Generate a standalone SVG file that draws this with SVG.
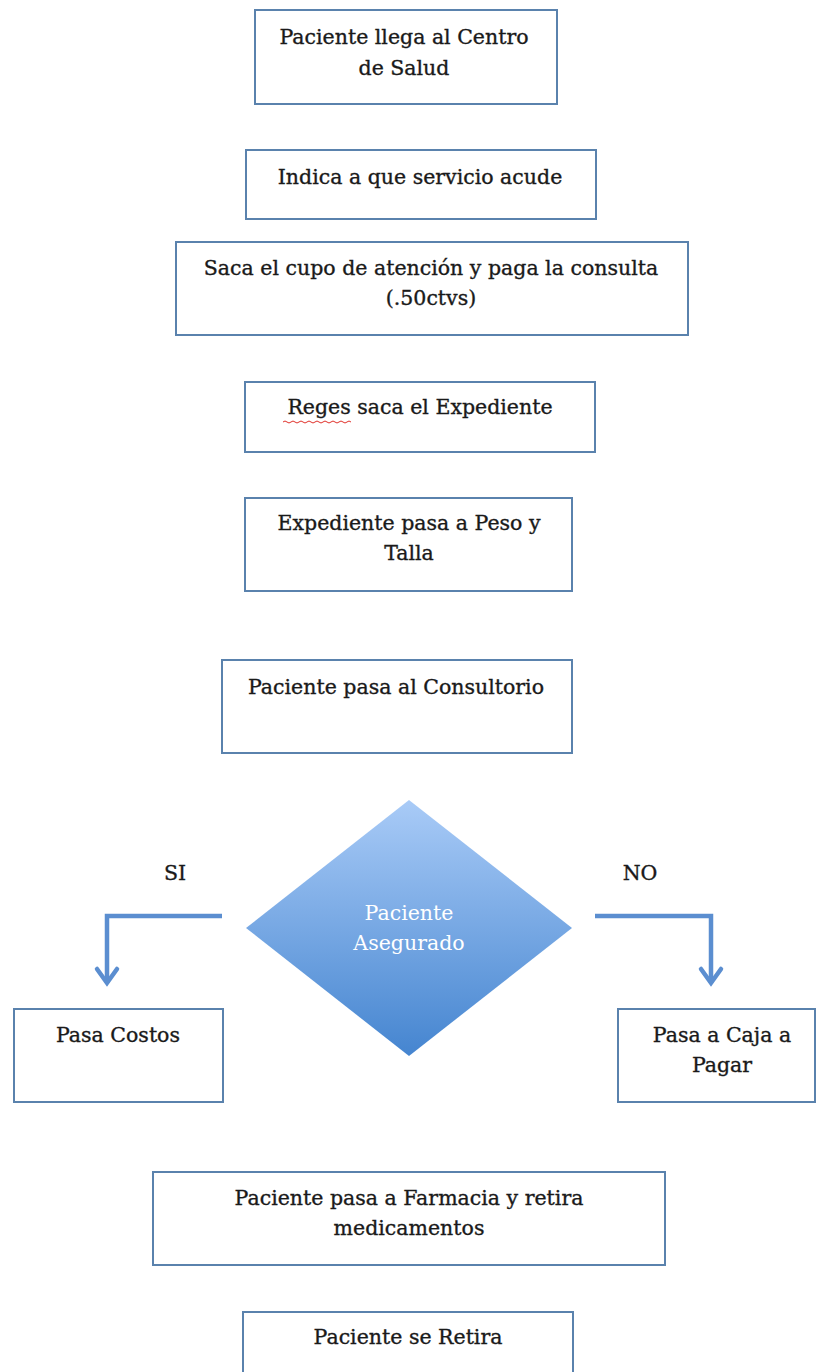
<svg xmlns="http://www.w3.org/2000/svg" width="816" height="1372" viewBox="0 0 816 1372">
<defs>
<style>
.box{fill:#ffffff;stroke:#5a82ad;stroke-width:2;}
.t{font-family:"DejaVu Serif","Liberation Serif",serif;font-size:20.5px;fill:#1a1a1a;stroke:#1a1a1a;stroke-width:0.35;text-anchor:middle;}
.lbl{font-family:"DejaVu Serif","Liberation Serif",serif;font-size:20.5px;fill:#1a1a1a;stroke:#1a1a1a;stroke-width:0.35;text-anchor:middle;}
.wt{font-family:"DejaVu Serif","Liberation Serif",serif;font-size:20.5px;fill:#ffffff;text-anchor:middle;}
.conn{fill:none;stroke:#5b8ed0;stroke-width:4.5;stroke-linejoin:miter;}
.head{fill:none;stroke:#5b8ed0;stroke-width:4.5;stroke-linecap:round;stroke-linejoin:miter;}
</style>
<linearGradient id="dg" x1="0" y1="0" x2="0" y2="1">
<stop offset="0" stop-color="#a9cbf7"/>
<stop offset="1" stop-color="#4585d0"/>
</linearGradient>
</defs>
<rect width="816" height="1372" fill="#ffffff"/>
<g id="n1"><rect class="box" x="255" y="10" width="302" height="94"/><text class="t" x="404" y="44">Paciente llega al Centro</text><text class="t" x="404" y="75">de Salud</text></g>
<g id="n2"><rect class="box" x="246" y="150" width="350" height="69"/><text class="t" x="420" y="184">Indica a que servicio acude</text></g>
<g id="n3"><rect class="box" x="176" y="242" width="512" height="93"/><text class="t" x="431" y="275">Saca el cupo de atención y paga la consulta</text><text class="t" x="431" y="305">(.50ctvs)</text></g>
<g id="n4"><rect class="box" x="245" y="382" width="350" height="70"/><text class="t" x="420" y="414">Reges saca el Expediente</text><path d="M283 422 q2 -2 4 0 t4 0 t4 0 t4 0 t4 0 t4 0 t4 0 t4 0 t4 0 t4 0 t4 0 t4 0 t4 0 t4 0 t4 0 t4 0 t4 0" fill="none" stroke="#e0302a" stroke-width="1"/></g>
<g id="n5"><rect class="box" x="245" y="498" width="327" height="93"/><text class="t" x="409" y="530">Expediente pasa a Peso y</text><text class="t" x="409" y="560">Talla</text></g>
<g id="n6"><rect class="box" x="222" y="660" width="350" height="93"/><text class="t" x="396" y="694">Paciente pasa al Consultorio</text></g>
<g id="n7"><polygon points="409,800 572,928 409,1056 246,928" fill="url(#dg)"/><text class="wt" x="409" y="920">Paciente</text><text class="wt" x="409" y="950">Asegurado</text></g>
<g id="n8"><rect class="box" x="14" y="1009" width="209" height="93"/><text class="t" x="118" y="1042">Pasa Costos</text></g>
<g id="n9"><rect class="box" x="618" y="1009" width="197" height="93"/><text class="t" x="722" y="1042">Pasa a Caja a</text><text class="t" x="722" y="1072">Pagar</text></g>
<g id="n10"><rect class="box" x="153" y="1172" width="512" height="93"/><text class="t" x="409" y="1205">Paciente pasa a Farmacia y retira</text><text class="t" x="409" y="1235">medicamentos</text></g>
<g id="n11"><rect class="box" x="243" y="1312" width="330" height="70"/><text class="t" x="408" y="1344">Paciente se Retira</text></g>
<g id="connectors">
<path class="conn" d="M222 916 H107 V983"/>
<path class="head" d="M97 969 L107 983 L117 969"/>
<path class="conn" d="M595 916 H711 V983"/>
<path class="head" d="M701 969 L711 983 L721 969"/>
<text class="lbl" x="175" y="880">SI</text>
<text class="lbl" x="640" y="880">NO</text>
</g>
</svg>
